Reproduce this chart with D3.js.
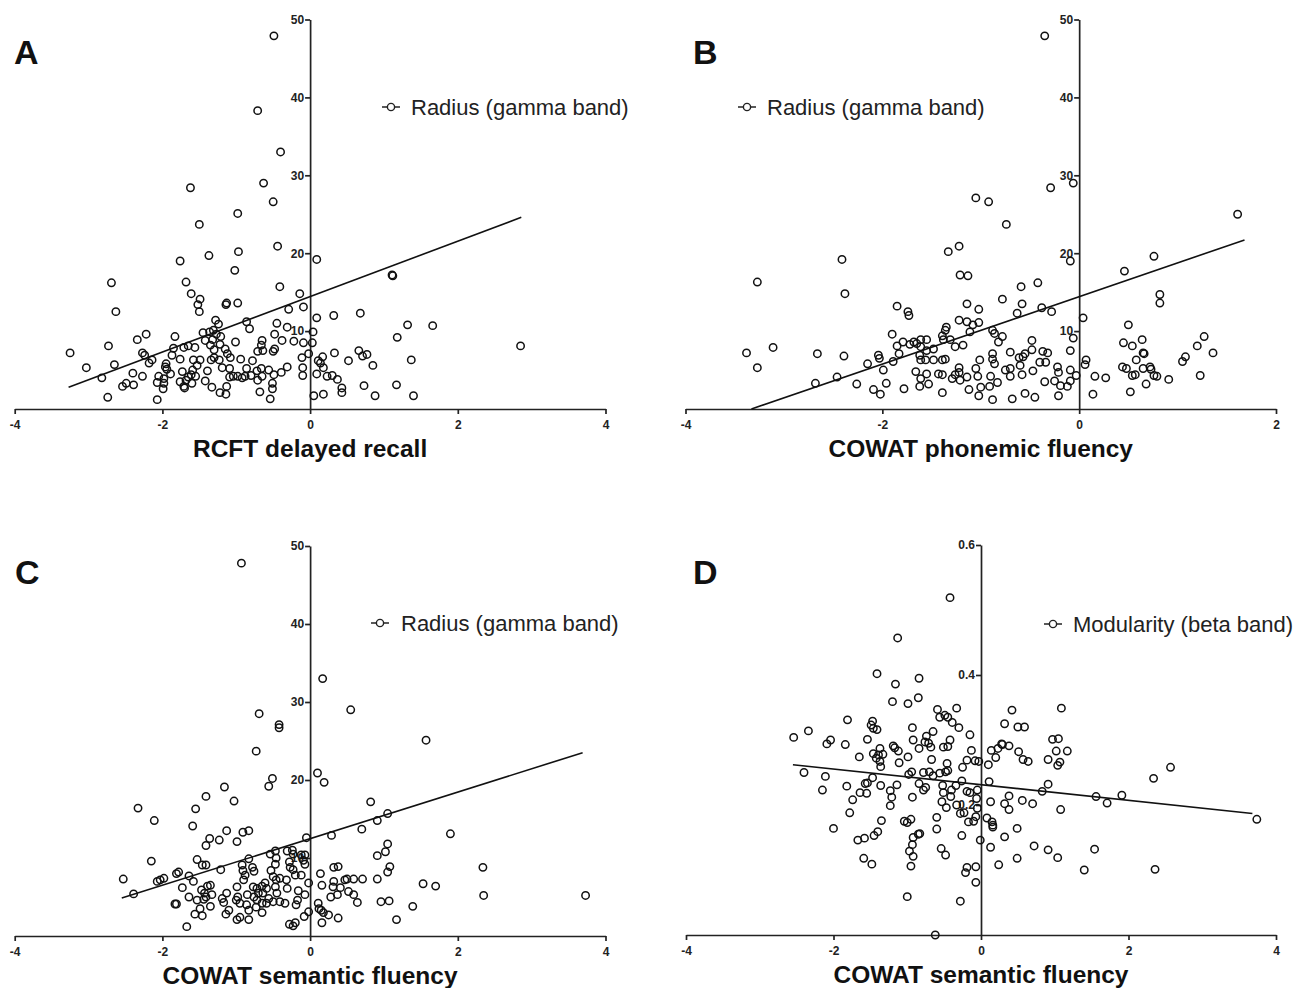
<!DOCTYPE html>
<html lang="en">
<head>
<meta charset="UTF-8" />
<title>Radius / modularity vs. neuropsychological scores</title>
<script src="https://d3js.org/d3.v7.min.js"></script>
<style>
  body { margin: 0; background: #fff; }
  svg { display: block; font-family: "Liberation Sans", Arial, sans-serif; }
  .tick text { font-weight: bold; font-size: 12px; fill: #222; }
  .axis path, .axis line { stroke: #222; stroke-width: 1.7; }
</style>
</head>
<body>
<svg width="1306" height="988"></svg>
<script>
// [score, radius] pairs
const rcftRadius = [
  [-2.69,16.2],[-2.63,12.5],[-1.68,16.3],[-1.61,14.8],[-1.49,14.1],[-1.52,13.4],[-1.50,12.5],[-1.14,13.4],[-1.13,13.6],[-0.98,13.6],
  [-0.41,15.7],[-0.14,14.8],[-0.29,12.8],[-0.09,13.1],[-0.86,11.2],[-0.82,10.3],[-1.28,11.4],[-1.24,10.9],[-1.45,9.8],[-1.36,9.9],
  [-1.31,10.1],[-1.27,9.6],[-1.21,9.3],[-1.32,8.9],[-1.42,8.8],[-1.35,8.2],[-1.30,7.6],[-1.22,8.3],[-1.15,7.7],[-1.12,7.1],
  [-1.08,6.6],[-1.30,6.6],[-1.34,6.3],[-1.23,6.3],[-1.19,5.3],[-1.09,5.2],[-1.01,8.6],[-0.94,6.4],[-0.78,6.2],[-0.71,7.4],
  [-0.65,8.8],[-0.66,8.2],[-0.64,7.5],[-0.50,7.4],[-0.48,7.7],[-0.45,11.0],[-0.31,10.5],[-0.48,9.6],[-0.38,8.8],[-0.22,8.7],
  [-0.09,8.5],[0.04,9.9],[0.03,8.5],[-0.02,7.1],[-0.11,6.6],[-0.10,5.3],[-0.10,4.3],[-0.31,5.4],[-0.39,4.7],[-0.49,4.4],
  [-0.56,5.0],[-0.66,5.2],[-0.65,4.2],[-0.72,4.9],[-0.80,4.3],[-0.86,5.2],[-0.88,4.2],[-0.92,4.0],[-0.98,4.2],[-1.04,4.2],
  [-1.09,4.1],[-0.51,3.3],[-0.51,2.6],[-0.68,2.2],[-0.54,1.3],[-1.13,2.9],[-1.14,1.9],[-1.22,2.1],[-1.33,2.8],[-1.42,3.6],
  [-1.39,4.9],[-1.49,6.3],[-1.53,5.6],[-1.58,6.3],[-1.59,5.0],[-1.61,4.4],[-1.55,4.2],[-1.65,4.1],[-1.60,3.3],[-1.68,3.7],
  [-1.71,2.9],[-1.70,2.7],[-1.76,3.5],[-1.73,4.8],[-1.76,6.4],[-1.71,7.9],[-1.65,8.1],[-1.56,7.9],[-1.83,9.3],[-1.85,7.8],
  [-1.87,6.9],[-1.95,5.8],[-1.96,5.4],[-1.94,5.1],[-1.89,4.5],[-1.98,3.9],[-2.05,4.2],[-2.07,3.4],[-1.98,3.3],[-1.99,2.6],
  [-2.07,1.2],[-2.14,6.3],[-2.18,5.9],[-2.24,6.9],[-2.27,7.2],[-2.34,8.9],[-2.22,9.6],[-2.27,4.2],[-2.40,4.6],[-2.39,3.1],
  [-2.49,3.3],[-2.54,2.9],[-2.73,8.1],[-2.65,5.7],[-2.82,4.0],[-3.03,5.3],[-3.25,7.2],[-2.74,1.5],[-0.71,3.7],
  [-0.49,47.9],[-0.71,38.3],[-0.40,33.0],[-0.63,29.0],[-1.62,28.4],[-0.50,26.6],[-0.98,25.1],[-1.50,23.7],[-0.44,20.9],[-0.97,20.2],
  [-1.37,19.7],[0.09,19.2],[-1.76,19.0],[-1.02,17.8],[1.11,17.2],[1.12,17.1],
  [0.09,11.7],[0.32,12.0],[0.68,12.3],[1.32,10.8],[1.66,10.7],[1.18,9.2],[0.17,6.7],[0.11,6.2],[0.14,5.9],[0.18,5.3],
  [0.33,7.2],[0.52,6.2],[0.66,7.5],[0.71,6.8],[0.77,7.0],[0.85,5.6],[1.37,6.3],[2.85,8.1],[0.09,4.5],[0.23,4.2],
  [0.30,4.3],[0.37,3.8],[0.43,2.7],[0.43,2.1],[0.73,3.0],[1.17,3.1],[0.05,1.7],[0.18,1.9],[0.88,1.7],[1.40,1.7]
];

// panel B
const phonemicRadius = [
  [-3.27,16.3],[-2.38,14.8],[-3.38,7.2],[-3.11,7.9],[-3.27,5.3],[-2.66,7.1],[-2.39,6.8],[-2.68,3.3],[-2.46,4.1],[-2.26,3.2],
  [-2.09,2.5],[-2.02,1.9],[-1.96,3.3],[-2.15,5.8],[-2.04,6.9],[-2.03,6.5],[-1.99,5.0],[-1.89,6.1],[-1.90,9.6],[-1.85,13.2],
  [-1.74,12.5],[-1.73,12.0],[-1.85,8.1],[-1.79,8.6],[-1.83,7.1],[-1.72,8.3],[-1.68,8.6],[-1.65,8.4],[-1.61,8.9],[-1.55,8.9],
  [-1.61,8.0],[-1.55,7.5],[-1.62,6.9],[-1.61,6.3],[-1.56,6.3],[-1.48,7.7],[-1.48,6.3],[-1.66,4.8],[-1.61,3.9],[-1.55,4.5],
  [-1.62,2.9],[-1.53,3.2],[-1.78,2.6],[-1.39,6.3],[-1.36,6.4],[-1.39,9.4],[-1.36,10.1],[-1.35,10.5],[-1.31,8.9],[-1.38,8.9],
  [-1.26,8.0],[-1.18,8.2],[-1.22,11.4],[-1.14,11.2],[-1.14,13.5],[-1.02,12.8],[-1.02,11.1],[-1.08,10.8],[-1.11,9.9],[-0.88,10.1],
  [-0.86,9.7],[-0.78,14.1],[-0.78,9.3],[-0.82,8.6],[-0.88,7.1],[-0.88,6.4],[-0.86,5.8],[-1.01,6.3],[-1.05,5.2],[-1.03,4.2],
  [-1.14,4.1],[-1.22,5.3],[-1.22,4.7],[-1.26,4.4],[-1.21,3.7],[-1.29,3.9],[-1.43,4.5],[-1.39,4.4],[-1.39,2.1],[-1.12,2.5],
  [-1.02,1.7],[-1.00,2.8],[-0.91,2.9],[-0.83,3.4],[-0.90,4.2],[-0.88,1.2],[-0.75,5.0],
  [-0.09,19.0],[0.76,19.6],[0.46,17.7],[0.82,14.7],[0.82,13.6],[-0.59,15.7],[-0.42,16.2],[-0.58,13.5],[-0.63,12.3],[-0.38,13.0],
  [-0.28,12.5],[0.04,11.7],[0.50,10.8],[-0.06,9.1],[-0.48,8.8],[-0.48,7.6],[-0.70,7.3],[-0.55,7.1],[-0.57,6.7],[-0.61,6.6],
  [-0.37,7.4],[-0.32,7.2],[-0.34,6.0],[-0.40,6.0],[-0.09,7.5],[-0.60,5.6],[-0.70,5.2],[-0.70,4.2],[-0.58,4.4],[-0.47,4.9],
  [-0.22,5.4],[-0.21,4.7],[-0.25,3.6],[-0.19,3.0],[-0.12,2.9],[-0.09,3.6],[-0.09,5.0],[-0.03,4.3],[0.07,6.3],[0.06,5.7],
  [0.16,4.2],[0.27,4.0],[0.14,1.9],[-0.68,1.3],[-0.55,2.0],[-0.45,1.5],[-0.35,3.5],[-0.21,1.7],[0.45,8.5],[0.54,8.1],
  [0.64,8.9],[0.65,7.2],[0.66,7.1],[0.58,6.3],[0.44,5.4],[0.48,5.2],[0.65,5.2],[0.72,5.4],[0.73,5.1],[0.54,4.3],
  [0.57,4.4],[0.76,4.3],[0.79,4.2],[0.68,3.2],[0.91,3.8],[0.52,2.2],[1.05,6.1],[1.08,6.7],[1.20,8.1],[1.27,9.3],
  [1.36,7.2],[1.23,4.3],
  [-0.35,47.9],[-0.29,28.4],[-0.06,29.0],[-1.05,27.1],[-0.92,26.6],[-0.74,23.7],[1.61,25.0],[-1.33,20.2],[-1.22,20.9],[-2.41,19.2],
  [-1.21,17.2],[-1.13,17.1]
];

// panel C
const semanticRadius = [
  [-1.16,19.1],[-0.56,19.2],[-1.41,17.9],[-1.03,17.3],[-2.33,16.4],[-1.55,16.3],[-2.11,14.8],[-1.59,14.1],[-1.13,13.5],[-1.36,12.5],
  [-1.23,12.3],[-0.91,13.3],[-0.83,13.5],[-1.41,11.6],[-0.99,12.1],[-2.15,9.6],[-1.53,9.8],[-1.46,9.1],[-1.41,9.1],[-1.21,8.5],
  [-0.83,9.9],[-0.92,9.1],[-0.91,8.4],[-0.78,8.8],[-0.76,8.3],[-0.54,10.5],[-0.47,10.9],[-0.46,10.0],[-0.47,9.2],[-0.31,10.9],
  [-0.24,11.0],[-0.23,10.5],[-0.28,9.5],[-0.27,8.8],[-0.12,10.4],[-0.07,10.4],[-0.09,9.7],[-0.07,9.2],[-0.05,12.6],[-2.53,7.3],
  [-2.39,5.4],[-2.07,7.0],[-2.03,7.2],[-1.98,7.4],[-1.81,8.0],[-1.78,8.2],[-1.64,7.7],[-1.58,7.0],[-1.73,6.2],[-1.64,5.0],
  [-1.83,4.1],[-1.81,4.1],[-1.56,2.8],[-1.67,1.2],[-1.47,5.9],[-1.43,5.5],[-1.39,6.4],[-1.35,6.5],[-1.41,5.0],[-1.44,4.7],
  [-1.33,5.3],[-1.49,3.5],[-1.46,2.6],[-1.35,3.8],[-1.53,4.6],[-1.19,4.8],[-1.17,4.3],[-1.13,5.5],[-1.10,3.3],[-1.14,2.8],
  [-0.99,6.3],[-1.00,4.6],[-0.98,5.0],[-0.95,4.2],[-0.99,2.1],[-0.95,2.4],[-0.83,2.1],[-0.83,3.3],[-0.85,5.3],[-0.86,4.0],
  [-0.90,7.2],[-0.88,7.8],[-0.77,6.3],[-0.72,6.1],[-0.65,6.4],[-0.61,6.8],[-0.59,6.1],[-0.64,5.5],[-0.70,5.5],[-0.76,5.0],
  [-0.72,4.6],[-0.65,4.2],[-0.59,4.2],[-0.56,4.8],[-0.50,4.4],[-0.41,4.4],[-0.34,4.2],[-0.65,3.0],[-0.73,3.7],[-0.53,8.4],
  [-0.50,7.6],[-0.46,7.2],[-0.47,6.3],[-0.41,7.4],[-0.32,7.2],[-0.31,6.1],[-0.45,5.5],[-0.23,8.5],[-0.20,7.8],[-0.12,7.8],
  [-0.16,5.8],[-0.17,4.6],[-0.19,4.0],[-0.07,5.3],[-0.02,6.8],[-0.28,1.5],[-0.23,1.3],[-0.20,1.7],[-0.08,2.5],[-0.02,3.1],
  [0.19,19.7],[0.82,17.2],[1.05,15.7],[0.91,14.8],[0.70,13.7],[0.29,12.9],[1.90,13.1],[1.05,11.8],[1.02,10.8],[0.91,10.3],
  [1.08,8.9],[1.05,8.2],[2.34,8.8],[0.91,7.3],[0.71,7.3],[0.59,7.3],[0.50,7.3],[0.47,7.2],[0.32,8.8],[0.38,8.9],
  [0.14,8.0],[0.16,6.5],[0.32,7.0],[0.31,6.3],[0.41,6.2],[0.52,5.7],[0.59,5.3],[0.64,4.3],[0.37,5.3],[0.28,5.0],
  [1.53,6.7],[1.70,6.4],[2.35,5.2],[3.73,5.2],[0.96,4.4],[1.07,4.5],[1.39,3.8],[1.17,2.1],[0.11,4.2],[0.12,3.5],
  [0.15,3.3],[0.18,3.0],[0.25,2.7],[0.38,2.3],[0.16,1.7],
  [-0.93,47.8],[0.17,33.0],[0.55,29.0],[-0.69,28.5],[-0.42,27.1],[-0.42,26.7],[1.57,25.1],[-0.73,23.7],[0.10,20.9],[-0.51,20.2]
];

// panel D
const semanticModularity = [
  [-1.13,0.457],[-0.42,0.519],[-1.41,0.402],[-0.84,0.395],[-1.16,0.386],[-1.20,0.359],[-0.99,0.356],[-0.85,0.365],[-0.59,0.347],[-0.56,0.335],
  [-0.49,0.338],[-0.45,0.335],[-0.39,0.327],[-0.30,0.319],[-0.33,0.349],[-0.15,0.308],[-0.13,0.284],[-1.81,0.331],[-1.47,0.329],[-1.49,0.323],
  [-1.46,0.318],[-1.41,0.316],[-2.54,0.304],[-2.34,0.314],[-2.09,0.294],[-2.04,0.300],[-1.84,0.293],[-1.54,0.301],[-1.65,0.274],[-1.46,0.279],
  [-1.39,0.277],[-1.33,0.278],[-1.42,0.272],[-1.37,0.267],[-1.37,0.287],[-1.36,0.259],[-1.19,0.291],[-1.17,0.288],[-1.12,0.283],[-1.11,0.265],
  [-0.99,0.274],[-0.93,0.319],[-0.92,0.300],[-0.84,0.287],[-0.76,0.297],[-0.74,0.306],[-0.71,0.295],[-0.68,0.289],[-0.65,0.313],[-0.51,0.289],
  [-0.45,0.290],[-0.42,0.300],[-0.67,0.270],[-0.25,0.258],[-0.19,0.269],[-0.08,0.268],[-0.03,0.267],[-0.46,0.264],[-0.48,0.251],[-0.45,0.253],
  [-0.78,0.250],[-0.70,0.251],[-0.65,0.245],[-0.56,0.249],[-0.98,0.247],[-0.94,0.251],[-2.40,0.250],[-2.11,0.244],[-2.15,0.223],[-1.82,0.229],
  [-1.74,0.208],[-1.78,0.188],[-1.64,0.219],[-1.57,0.233],[-1.54,0.234],[-1.55,0.218],[-1.47,0.242],[-1.36,0.230],[-1.23,0.222],[-1.21,0.212],
  [-1.23,0.199],[-1.14,0.231],[-0.93,0.212],[-0.84,0.233],[-0.78,0.223],[-0.75,0.227],[-0.52,0.230],[-0.51,0.219],[-0.53,0.205],[-0.47,0.196],
  [-0.41,0.213],[-0.40,0.223],[-0.34,0.230],[-0.26,0.237],[-0.19,0.221],[-0.15,0.219],[-0.05,0.223],[-0.06,0.210],[-0.33,0.200],[-0.28,0.187],
  [-0.23,0.188],[-0.17,0.174],[-0.10,0.175],[-0.07,0.182],[-0.05,0.195],[-2.00,0.164],[-1.35,0.176],[-1.67,0.146],[-1.58,0.149],[-1.45,0.153],
  [-1.40,0.159],[-1.04,0.175],[-1.00,0.173],[-0.95,0.178],[-1.59,0.118],[-1.48,0.109],[-0.85,0.155],[-0.83,0.156],[-0.92,0.150],[-0.93,0.139],
  [-0.97,0.129],[-0.92,0.121],[-0.95,0.106],[-0.60,0.181],[-0.60,0.163],[-0.54,0.133],[-0.48,0.123],[-0.26,0.153],[-0.01,0.146],[-0.19,0.104],
  [-0.21,0.096],[-0.07,0.105],[-0.07,0.081],[-1.00,0.059],[-0.28,0.052],[-0.62,0.000],
  [0.42,0.346],[1.09,0.349],[0.32,0.325],[0.50,0.320],[0.59,0.320],[0.97,0.301],[1.05,0.302],[0.28,0.294],[0.29,0.293],[0.38,0.291],
  [0.23,0.287],[0.14,0.284],[0.20,0.273],[0.51,0.282],[0.57,0.270],[0.64,0.267],[0.10,0.262],[0.91,0.270],[1.02,0.283],[1.17,0.283],
  [1.07,0.266],[1.04,0.261],[0.11,0.236],[0.91,0.232],[0.83,0.221],[0.38,0.214],[0.56,0.207],[0.70,0.202],[0.13,0.205],[0.32,0.202],
  [0.38,0.193],[1.08,0.193],[1.56,0.213],[1.71,0.203],[1.91,0.215],[2.34,0.241],[2.57,0.258],[3.74,0.178],[0.08,0.180],[0.15,0.174],
  [0.16,0.169],[0.16,0.166],[0.49,0.164],[0.32,0.151],[0.13,0.135],[0.72,0.137],[0.91,0.131],[1.04,0.119],[1.54,0.132],[0.49,0.118],
  [0.24,0.108],[1.40,0.100],[2.36,0.101]
];

// regression line end points
const rcftFit = [[-3.27, 2.8], [2.86, 24.6]];
const phonemicFit = [[-3.33, 0], [1.68, 21.7]];
const semanticFit = [[-2.55, 4.86], [3.69, 23.5]];
const modularityFit = [[-2.55, 0.262], [3.68, 0.187]];

const radiusTicks = [10, 20, 30, 40, 50];
const modularityTicks = [0.2, 0.4, 0.6];

const panels = [
  { letter: "A", points: rcftRadius, fit: rcftFit, xDomain: [-4, 4], xTicks: [-4, -2, 0, 2, 4],
    yDomain: [0, 50], yTicks: radiusTicks, xTitle: "RCFT delayed recall", legend: "Radius (gamma band)",
    left: 14.7, right: 605.5, bottom: 409, top: 19.5, letterX: 14, letterY: 64,
    legX: 382, legY: 107, legTextX: 411, legBase: 114.5 },
  { letter: "B", points: phonemicRadius, fit: phonemicFit, xDomain: [-4, 2], xTicks: [-4, -2, 0, 2],
    yDomain: [0, 50], yTicks: radiusTicks, xTitle: "COWAT phonemic fluency", legend: "Radius (gamma band)",
    left: 685.5, right: 1276, bottom: 409, top: 19.5, letterX: 693, letterY: 64,
    legX: 738, legY: 107, legTextX: 767, legBase: 114.5 },
  { letter: "C", points: semanticRadius, fit: semanticFit, xDomain: [-4, 4], xTicks: [-4, -2, 0, 2, 4],
    yDomain: [0, 50], yTicks: radiusTicks, xTitle: "COWAT semantic fluency", legend: "Radius (gamma band)",
    left: 14.7, right: 605.5, bottom: 936, top: 546, letterX: 15, letterY: 584,
    legX: 371, legY: 623, legTextX: 401, legBase: 631 },
  { letter: "D", points: semanticModularity, fit: modularityFit, xDomain: [-4, 4], xTicks: [-4, -2, 0, 2, 4],
    yDomain: [0, 0.6], yTicks: modularityTicks, xTitle: "COWAT semantic fluency", legend: "Modularity (beta band)",
    left: 686, right: 1276, bottom: 935, top: 545, letterX: 693, letterY: 584,
    legX: 1044, legY: 624, legTextX: 1073, legBase: 631.5 }
];

const svg = d3.select("svg");

panels.forEach(p => {
  const x = d3.scaleLinear().domain(p.xDomain).range([p.left, p.right]);
  const y = d3.scaleLinear().domain(p.yDomain).range([p.bottom, p.top]);
  const g = svg.append("g");

  // x axis along y = 0
  g.append("g")
    .attr("class", "axis")
    .attr("transform", `translate(0,${y(0)})`)
    .call(d3.axisBottom(x).tickValues(p.xTicks).tickSize(5).tickSizeOuter(0)
      .tickPadding(6).tickFormat(d => String(d)));

  // y axis through x = 0
  g.append("g")
    .attr("class", "axis")
    .attr("transform", `translate(${x(0)},0)`)
    .call(d3.axisLeft(y).tickValues(p.yTicks).tickSize(5).tickSizeOuter(0)
      .tickPadding(1).tickFormat(d => String(d)));

  g.selectAll(".axis .domain").attr("fill", "none");

  // fit line
  g.append("line")
    .attr("x1", x(p.fit[0][0])).attr("y1", y(p.fit[0][1]))
    .attr("x2", x(p.fit[1][0])).attr("y2", y(p.fit[1][1]))
    .attr("stroke", "#111").attr("stroke-width", 1.6);

  // points
  g.selectAll("circle.pt")
    .data(p.points)
    .enter()
    .append("circle")
    .attr("class", "pt")
    .attr("cx", d => x(d[0]))
    .attr("cy", d => y(d[1]))
    .attr("r", 3.7)
    .attr("fill", "none")
    .attr("stroke", "#111")
    .attr("stroke-width", 1.5);

  // panel letter
  g.append("text")
    .attr("x", p.letterX).attr("y", p.letterY)
    .attr("font-size", 34).attr("font-weight", "bold").attr("fill", "#111")
    .text(p.letter);

  // axis title
  g.append("text")
    .attr("x", (p.left + p.right) / 2).attr("y", y(0) + 48)
    .attr("text-anchor", "middle")
    .attr("font-size", 24.5).attr("font-weight", "bold").attr("fill", "#111")
    .text(p.xTitle);

  // legend: line with a circle marker, then label
  g.append("line")
    .attr("x1", p.legX).attr("x2", p.legX + 18)
    .attr("y1", p.legY).attr("y2", p.legY)
    .attr("stroke", "#222").attr("stroke-width", 1.5);
  g.append("circle")
    .attr("cx", p.legX + 9).attr("cy", p.legY).attr("r", 3.6)
    .attr("fill", "#fff").attr("stroke", "#222").attr("stroke-width", 1.4);
  g.append("text")
    .attr("x", p.legTextX).attr("y", p.legBase)
    .attr("font-size", 22).attr("fill", "#222")
    .text(p.legend);
});
</script>
</body>
</html>
